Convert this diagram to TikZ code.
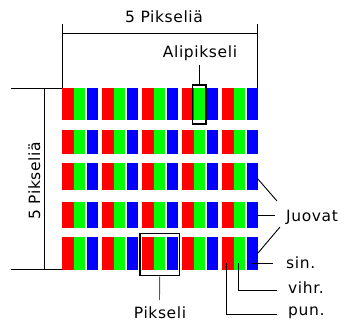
\documentclass[tikz,border=0pt]{standalone}
\usepackage{fontspec}
\setmainfont[LetterSpace=4]{DejaVu Sans}
\begin{document}
\begin{tikzpicture}[x=1pt,y=-1pt,
  lbl/.style={inner sep=0pt,font=\fontsize{15.5}{18}\selectfont},
  lead/.style={line width=0.9pt,black},
  selbox/.style={draw=black,line width=1.3pt,inner sep=0pt,fill=none}]
\useasboundingbox (0,0) rectangle (344,323);
\fill[white] (0,0) rectangle (344,323);
% subpixels
\foreach \ya/\yb in {88/120,130/154,163/190,202/228,237/270}{
  \foreach \i in {0,...,4}{
    \pgfmathsetmacro{\xo}{62+40*\i}
    \fill[red]        (\xo,\ya) rectangle (\xo+12.3,\yb);
    \fill[green]      (\xo+12.3,\ya) rectangle (\xo+23.3,\yb);
    \fill[blue]       (\xo+24.8,\ya) rectangle (\xo+36,\yb);
  }
}
% top dimension
\coordinate (tl) at (62,24); \coordinate (tlb) at (62,88);
\coordinate (tr) at (257,24); \coordinate (trb) at (257,88);
\coordinate (hl) at (62,33); \coordinate (hr) at (257,33);
\draw[lead] (tl) -- (tlb);
\draw[lead] (tr) -- (trb);
\draw[lead] (hl) -- (hr);
\node[lbl,anchor=base] (toptxt) at (164,23) {5 Pikseliä};
% left dimension
\coordinate (la) at (11,88); \coordinate (lb) at (62,88);
\coordinate (lc) at (11,269); \coordinate (ld) at (62,269);
\coordinate (lv1) at (44,88); \coordinate (lv2) at (44,269);
\draw[lead] (la) -- (lb);
\draw[lead] (lc) -- (ld);
\draw[lead] (lv1) -- (lv2);
\node[lbl,anchor=base,rotate=90] (lefttxt) at (40,181) {5 Pikseliä};
% Alipikseli
\node[selbox,minimum width=13.3pt,minimum height=39pt] (alibox) at (199.3,104.5) {};
\node[lbl,anchor=base] (ali) at (200,58) {Alipikseli};
\coordinate (alitop) at (199.3,65);
\draw[lead] (alitop) -- (alibox.north);
% Pikseli
\node[selbox,minimum width=39.3pt,minimum height=42.4pt] (pixbox) at (159.7,254.5) {};
\node[lbl,anchor=base] (pix) at (160,318) {Pikseli};
\coordinate (pixbot) at (159.5,300);
\draw[lead,gray!70!black] (pixbox.south) -- (pixbot);
% Juovat
\node[lbl,anchor=base west] (jv) at (286,221) {Juovat};
\coordinate (j1a) at (257,178); \coordinate (j1b) at (277,201);
\coordinate (j2a) at (257,215); \coordinate (j2b) at (275,215);
\coordinate (j3a) at (258,253); \coordinate (j3b) at (280,227);
\draw[lead] (j1a) -- (j1b);
\draw[lead] (j2a) -- (j2b);
\draw[lead] (j3a) -- (j3b);
% sin.
\node[lbl,anchor=base west] (sin) at (286,268) {sin.};
\coordinate (s1) at (252,263); \coordinate (s2) at (273,263);
\draw[lead] (s1) -- (s2);
% vihr.
\node[lbl,anchor=base west] (vihr) at (288,293) {vihr.};
\coordinate (v1) at (238,263); \coordinate (v2) at (238,290.5); \coordinate (v3) at (277,290.5);
\draw[lead] (v1) -- (v2) -- (v3);
% pun.
\node[lbl,anchor=base west] (pun) at (288,315) {pun.};
\coordinate (p1) at (226,263); \coordinate (p2) at (226,314); \coordinate (p3) at (277,314);
\draw[lead] (p1) -- (p2) -- (p3);
\end{tikzpicture}
\end{document}
